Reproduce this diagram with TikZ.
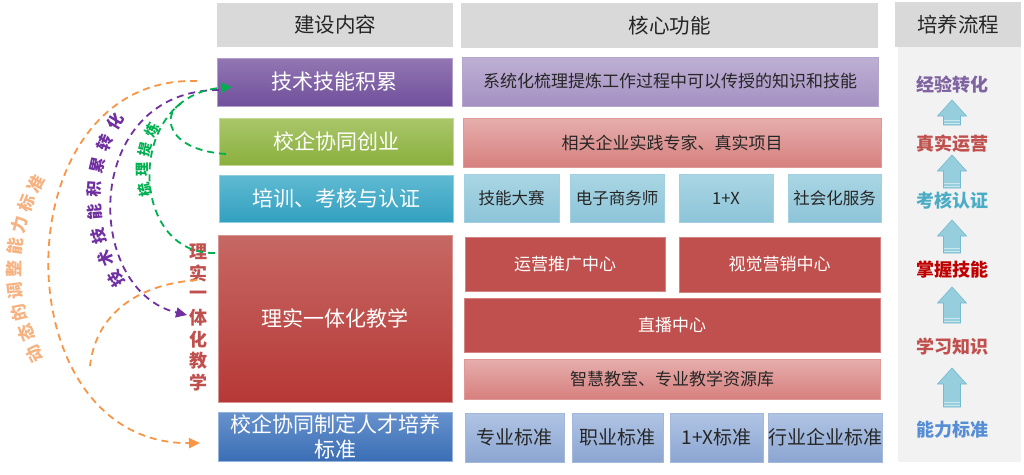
\documentclass[tikz,border=0pt]{standalone}
\usepackage{fontspec}
\setmainfont{Noto Sans CJK SC}
\usetikzlibrary{arrows.meta}
\definecolor{hdr}{HTML}{D9D9D9}
\definecolor{rbg}{HTML}{F2F2F2}
\definecolor{txt}{HTML}{262626}
\definecolor{purT}{RGB}{146,118,178}
\definecolor{purB}{RGB}{112,80,156}
\definecolor{grnT}{RGB}{170,198,106}
\definecolor{grnB}{RGB}{138,176,62}
\definecolor{tealT}{RGB}{96,186,210}
\definecolor{tealB}{RGB}{50,160,192}
\definecolor{redT}{RGB}{198,104,100}
\definecolor{redB}{RGB}{182,56,54}
\definecolor{bluT}{RGB}{104,146,206}
\definecolor{bluB}{RGB}{58,110,180}
\definecolor{lavT}{RGB}{190,176,212}
\definecolor{lavB}{RGB}{164,144,194}
\definecolor{pnkT}{RGB}{230,174,172}
\definecolor{pnkB}{RGB}{214,128,126}
\definecolor{ltT}{RGB}{170,214,228}
\definecolor{ltB}{RGB}{140,196,216}
\definecolor{sbT}{RGB}{176,196,228}
\definecolor{sbB}{RGB}{140,166,210}
\definecolor{cred}{RGB}{192,80,77}
\definecolor{orng}{RGB}{247,150,70}
\definecolor{orngtxt}{RGB}{246,178,128}
\definecolor{prpl}{RGB}{112,48,160}
\definecolor{grn}{RGB}{0,176,80}
\definecolor{arrfill}{RGB}{150,206,222}
\definecolor{arrdraw}{RGB}{118,186,208}
\definecolor{lbl1}{RGB}{128,100,162}
\definecolor{lbl2}{RGB}{192,80,77}
\definecolor{lbl3}{RGB}{75,172,198}
\definecolor{lbl4}{RGB}{192,0,0}
\definecolor{lbl6}{RGB}{85,142,213}
\newcommand\setfs[1]{\fontsize{#1pt}{#1pt}\selectfont}
\newcommand\blkarrow[3]{%
  \pgfmathsetmacro\hb{#2+16}%
  \filldraw[fill=arrfill, draw=arrdraw, line width=0.6pt]
    (#1-8.5,#3) -- (#1-8.5,\hb) -- (#1-14.5,\hb) -- (#1,#2) -- (#1+14.5,\hb)
    -- (#1+8.5,\hb) -- (#1+8.5,#3) -- cycle;
  \draw[white!50!arrfill, line width=0.8pt] (#1-8.2,#3-4.5) -- (#1+8.2,#3-4.5);
  \draw[white!50!arrfill, line width=0.8pt] (#1-8.2,#3-2) -- (#1+8.2,#3-2);
}
\begin{document}
\begin{tikzpicture}[x=1pt,y=-1pt,
  cell/.style={anchor=north west, inner sep=0pt, outer sep=0pt, align=center},
  hdrbox/.style={cell, fill=hdr, text=txt, font=\setfs{20.5}},
  bigbox/.style={cell, text=white, font=\setfs{21}},
  midbox/.style={cell, text=txt, font=\setfs{17}},
  stdbox/.style={cell, text=txt, font=\setfs{19}, top color=sbT, bottom color=sbB, draw=sbB!80!white, line width=0.6pt},
  ltbox/.style={cell, text=txt, font=\setfs{16.5}, top color=ltT, bottom color=ltB, draw=ltB!80!white, line width=0.6pt},
  redbox/.style={cell, text=white, font=\setfs{17}, fill=cred, draw=cred!70!white, line width=0.6pt},
  steplbl/.style={font=\bfseries\setfs{18}},
  dashln/.style={dash pattern=on 7pt off 5pt, line width=1.8pt},
  tip/.style={-{Triangle[length=11pt,width=10pt]}},
  otext/.style={text=orngtxt, font=\bfseries\setfs{17}, inner sep=0pt},
  ptext/.style={text=prpl, font=\bfseries\setfs{16}, inner sep=0pt},
  gtext/.style={text=grn, font=\bfseries\setfs{14}, inner sep=0pt}
]
\useasboundingbox (0,0) rectangle (1024,474);
\fill[white] (0,0) rectangle (1024,474);

% right column background
\fill[rbg] (898,47) rectangle (1021,462);

% headers
\node[hdrbox, minimum width=236pt, minimum height=44pt] (h1) at (217,3) {建设内容};
\node[hdrbox, minimum width=417pt, minimum height=45pt] (h2) at (461,3) {核心功能};
\node[hdrbox, minimum width=126pt, minimum height=45pt] (h3) at (895,2) {培养流程};

% left column
\node[bigbox, minimum width=235pt, minimum height=48pt, top color=purT, bottom color=purB, draw=purT!70!white, line width=0.6pt] (l1) at (217,58) {技术技能积累};
\node[bigbox, minimum width=234pt, minimum height=47pt, top color=grnT, bottom color=grnB, draw=grnT!70!white, line width=0.6pt] (l2) at (219,118) {校企协同创业};
\node[bigbox, minimum width=234pt, minimum height=47pt, top color=tealT, bottom color=tealB, draw=tealT!70!white, line width=0.6pt] (l3) at (219,175) {培训、考核与认证};
\node[bigbox, minimum width=234pt, minimum height=167pt, top color=redT, bottom color=redB, draw=redT!70!white, line width=0.6pt] (l4) at (218,235) {理实一体化教学};
\node[bigbox, minimum width=234pt, minimum height=49pt, top color=bluT, bottom color=bluB, draw=bluT!70!white, line width=0.6pt, font={\fontsize{21pt}{25pt}\selectfont}] (l5) at (218,412) {校企协同制定人才培养\\标准};

% middle column
\node[midbox, minimum width=416pt, minimum height=49pt, top color=lavT, bottom color=lavB, draw=lavB!80!white, line width=0.6pt] (m1) at (462,57) {系统化梳理提炼工作过程中可以传授的知识和技能};
\node[midbox, minimum width=418pt, minimum height=49pt, top color=pnkT, bottom color=pnkB, draw=pnkB!80!white, line width=0.6pt] (m2) at (463,118) {相关企业实践专家、真实项目};
\node[ltbox, minimum width=95pt, minimum height=48pt] (m3a) at (464,174) {技能大赛};
\node[ltbox, minimum width=94pt, minimum height=48pt] (m3b) at (570,174) {电子商务师};
\node[ltbox, minimum width=94pt, minimum height=48pt] (m3c) at (679,174) {1+X};
\node[ltbox, minimum width=93pt, minimum height=48pt] (m3d) at (788,174) {社会化服务};
\node[redbox, minimum width=200pt, minimum height=54pt] (m4a) at (465,237) {运营推广中心};
\node[redbox, minimum width=201pt, minimum height=55pt] (m4b) at (679,237) {视觉营销中心};
\node[redbox, minimum width=416pt, minimum height=54pt] (m5) at (464,298) {直播中心};
\node[midbox, minimum width=416pt, minimum height=40pt, top color=pnkT, bottom color=pnkB, draw=pnkB!80!white, line width=0.6pt] (m6) at (464,359) {智慧教室、专业教学资源库};
\node[stdbox, minimum width=99pt, minimum height=49pt] (m7a) at (465,413) {专业标准};
\node[stdbox, minimum width=91pt, minimum height=49pt] (m7b) at (572,413) {职业标准};
\node[stdbox, minimum width=93pt, minimum height=49pt] (m7c) at (670,413) {1+X标准};
\node[stdbox, minimum width=112pt, minimum height=49pt] (m7d) at (768,413) {行业企业标准};

% right column labels
\node[steplbl, text=lbl1] (r1) at (952,85) {经验转化};
\node[steplbl, text=lbl2] (r2) at (952,144) {真实运营};
\node[steplbl, text=lbl3] (r3) at (952,201) {考核认证};
\node[steplbl, text=lbl4] (r4) at (952,270) {掌握技能};
\node[steplbl, text=lbl2] (r5) at (952,347) {学习知识};
\node[steplbl, text=lbl6] (r6) at (952,430) {能力标准};
\blkarrow{952}{100}{125}
\blkarrow{952}{155}{188}
\blkarrow{952}{220}{253}
\blkarrow{952}{287}{323}
\blkarrow{952}{368}{407}

% vertical label
\foreach \c [count=\i from 0] in {理,实,一,体,化,教,学} {
  \node[text=cred, font=\bfseries\setfs{18}, inner sep=0pt] (v\i) at (198,{252+21.8*\i}) {\c};
}

% connectors
\coordinate (oS) at (197,81);
\coordinate (oT) at (200,443);
\coordinate (o2S) at (197,280);
\coordinate (o2E) at (90,366);
\coordinate (pS) at (219,90);
\coordinate (pT) at (187,315);
\coordinate (gS) at (215,253);
\coordinate (gT) at (232,87);
\coordinate (g2S) at (226,154);
\coordinate (g2E) at (184,102);

\draw[orng, dashln, tip] (oS) .. controls (0,75) and (0,445) .. (oT);
\draw[orng, dashln] (o2S) .. controls (130,285) and (95,320) .. (o2E);
\draw[prpl, dashln, tip] (pS) .. controls (82,90) and (82,290) .. (pT);
\draw[grn, dashln] (g2S) .. controls (165,150) and (160,112) .. (g2E);
\draw[grn, dashln, tip] (gS) .. controls (128,255) and (125,95) .. (gT);

% arc texts
\foreach \c [count=\i from 0] in {动,态,的,调,整,能,力,标,准} {
  \pgfmathsetmacro\ang{208-7.125*\i}
  \pgfmathsetmacro\rot{\ang-90}
  \node[otext, rotate=\rot] (ot\i) at ({192+178*cos(\ang)},{270-178*sin(\ang)}) {\c};
}
\foreach \c [count=\i from 0] in {技,术,技,能,积,累,转,化} {
  \pgfmathsetmacro\ang{211.6-8.97*\i}
  \pgfmathsetmacro\rot{\ang-90}
  \node[ptext, rotate=\rot] (pt\i) at ({245+151*cos(\ang)},{200-151*sin(\ang)}) {\c};
}
\foreach \c [count=\i from 0] in {梳,理,提,炼} {
  \pgfmathsetmacro\ang{193-13.3*\i}
  \pgfmathsetmacro\rot{\ang-90}
  \node[gtext, rotate=\rot] (gt\i) at ({230+88*cos(\ang)},{170-88*sin(\ang)}) {\c};
}
\end{tikzpicture}
\end{document}
